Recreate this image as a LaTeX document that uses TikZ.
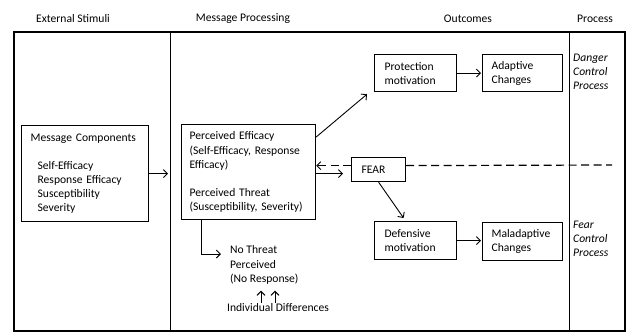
\documentclass[tikz,border=0pt]{standalone}
\usepackage{fontspec}
\setmainfont{Carlito}
\usetikzlibrary{arrows.meta}
\begin{document}
\begin{tikzpicture}[x=1pt,y=-1pt,
  font=\fontsize{11.6}{14.1}\selectfont,
  box/.style={draw,line width=1.2pt,align=left,inner xsep=9pt,inner ysep=2pt,anchor=north west},
  arr/.style={-{Straight Barb[length=4pt,width=8pt]},line width=0.9pt},
  lbl/.style={align=left,inner sep=1pt},
  dsh/.style={dash pattern=on 8pt off 4.5pt,line width=1.2pt}]
\useasboundingbox (0,0) rectangle (629,332);
% frame and dividers
\draw[line width=1.6pt] (14,32) rectangle (625,331);
\draw[line width=0.9pt] (170,32) -- (170,331);
\draw[line width=0.9pt] (569,32) -- (569,331);
% headers
\node[lbl] (h1) at (73,19) {External Stimuli};
\node[lbl] (h2) at (243,19) {Message Processing};
\node[lbl] (h3) at (468,19) {Outcomes};
\node[lbl] (h4) at (595,19) {Process};
% boxes
\node[box,minimum width=127pt,minimum height=96pt,text width=109pt] (MC) at (21,125)
  {Message Components\\[14.1pt]\hspace*{7pt}Self-Efficacy\\\hspace*{7pt}Response Efficacy\\\hspace*{7pt}Susceptibility\\\hspace*{7pt}Severity};
\node[box,minimum width=134pt,minimum height=95pt,text width=118pt,inner xsep=8pt] (PE) at (181,124)
  {Perceived Efficacy\\(Self-Efficacy, Response\\Efficacy)\\[14.1pt]Perceived Threat\\(Susceptibility, Severity)};
\node[box,minimum width=82pt,minimum height=37pt,text width=62pt,inner xsep=10pt] (PM) at (374,54) {Protection\\motivation};
\node[box,minimum width=80pt,minimum height=37pt,text width=62pt] (AC) at (482,54) {Adaptive\\Changes};
\node[box,minimum width=54pt,minimum height=24pt,text width=34pt,inner xsep=10pt] (FEAR) at (351,157) {FEAR};
\node[box,minimum width=82pt,minimum height=38pt,text width=62pt,inner xsep=10pt] (DM) at (374,221) {Defensive\\motivation};
\node[box,minimum width=80pt,minimum height=38pt,text width=62pt] (MA) at (482,222) {Maladaptive\\Changes};
% free text
\node[lbl,anchor=west] (NT) at (229,265) {No Threat\\Perceived\\(No Response)};
\node[lbl] (ID) at (278,308) {Individual Differences};
\node[lbl,anchor=west,font=\fontsize{11.6}{14.1}\selectfont\itshape] (DCP) at (572,72) {Danger\\Control\\Process};
\node[lbl,anchor=west,font=\fontsize{11.6}{14.1}\selectfont\itshape] (FCP) at (572,239) {Fear\\Control\\Process};
% connectors
\draw[arr,shorten >=13pt] (MC.east) -- (MC.east -| PE.west);
\draw[arr,shorten >=1pt] (PM.east) -- (PM.east -| AC.west);
\draw[arr,shorten >=1pt] (DM.east) -- (DM.east -| MA.west);
\draw[arr] ([yshift=-13pt]PE.north east) -- ([xshift=-7pt,yshift=-2pt]PM.south west);
\draw[arr,dsh,line width=0.9pt] ([yshift=4pt]FEAR.west) -- ([yshift=4pt]FEAR.west -| PE.east);
\draw[arr,shorten >=8pt] ([yshift=-1.5pt]PE.east) -- ([yshift=-1.5pt]PE.east -| FEAR.west);
\coordinate (dashend) at (612,165);
\draw[dsh] ([yshift=4pt]FEAR.east) -- (dashend);
\draw[arr] (FEAR.south) -- ([xshift=-12pt,yshift=3pt]DM.north);
\draw[arr] ([xshift=-47pt]PE.south) |- ([xshift=-8pt,yshift=11pt]NT.west);
\draw[arr] ([xshift=-17pt]ID.north) -- ++(0,-12);
\draw[arr] ([xshift=-3pt]ID.north) -- ++(0,-12);
\end{tikzpicture}
\end{document}
